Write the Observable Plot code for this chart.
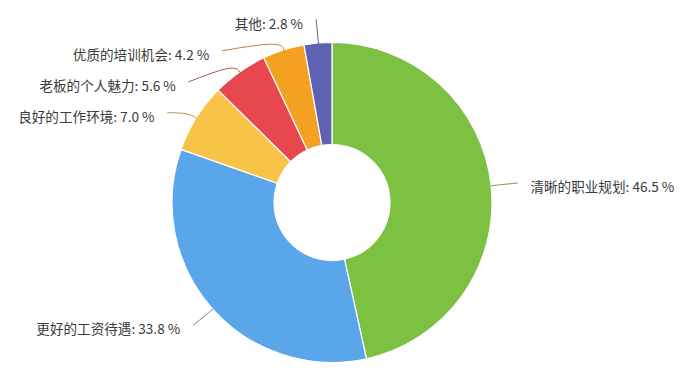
<!DOCTYPE html>
<html>
<head>
<meta charset="utf-8">
<script src="https://cdn.jsdelivr.net/npm/d3@7"></script>
<script src="https://cdn.jsdelivr.net/npm/@observablehq/plot@0.6"></script>
<style>
  html, body { margin: 0; padding: 0; background: #fff; }
  #chart { width: 690px; height: 383px; }
</style>
</head>
<body>
<div id="chart"></div>
<script>
const categories = ["清晰的职业规划", "更好的工资待遇", "良好的工作环境", "老板的个人魅力", "优质的培训机会", "其他"];
const values = [46.5, 33.8, 7.0, 5.6, 4.2, 2.8];
const colors = ["#7cc142", "#5aa6ea", "#f8c448", "#e9474f", "#f4a021", "#5d63b2"];

const W = 690, H = 383;
const cx = 332, cy = 202.5, R = 160, R0 = 58;

const data = categories.map((c, i) => ({ key: c, value: values[i], color: colors[i] }));
const arcs = d3.pie().sort(null).value(d => d.value)(data);

// label layout
const items = arcs.map(a => {
  const m = (a.startAngle + a.endAngle) / 2;
  const s = Math.sin(m), c = Math.cos(m);
  return { arc: a, m, s, c, side: s >= 0 ? 1 : -1, ly0: cy - 184 * c };
});
for (const side of [1, -1]) {
  const g = items.filter(d => d.side === side).sort((a, b) => a.ly0 - b.ly0);
  let prev = -Infinity;
  for (const d of g) {
    d.ly = Math.max(d.ly0, prev + 31);
    prev = d.ly;
  }
}
const linePts = [];
const labelPts = [];
for (const d of items) {
  const moved = d.ly > d.ly0 + 0.5;
  const Cx = moved ? cx + d.side * Math.sqrt(Math.max(0, 188 * 188 - (d.ly - cy) ** 2)) : cx + 186 * d.s;
  const col = d3.interpolateRgb(d.arc.data.color, "#666")(0.45);
  linePts.push({ key: d.arc.data.key, x: cx + R * d.s, y: cy - R * d.c, color: col });
  linePts.push({ key: d.arc.data.key, x: cx + (R + 10) * d.s, y: cy - (R + 10) * d.c, color: col });
  linePts.push({ key: d.arc.data.key, x: Cx, y: d.ly, color: col });
  labelPts.push({
    x: Cx + d.side * 13,
    y: d.ly + 5,
    text: `${d.arc.data.key}: ${d.arc.data.value.toFixed(1)} %`,
    anchor: d.side > 0 ? "start" : "end"
  });
}

const arcGen = d3.arc().innerRadius(R0).outerRadius(R);

function slices(index, scales) {
  const g = d3.create("svg:g")
    .attr("transform", `translate(${scales.x(cx)},${scales.y(cy)})`);
  g.selectAll("path")
    .data(arcs)
    .join("path")
    .attr("d", arcGen)
    .attr("fill", d => d.data.color)
    .attr("stroke", "#fff")
    .attr("stroke-width", 1.2)
    .attr("stroke-linejoin", "round");
  return g.node();
}

const chart = Plot.plot({
  width: W,
  height: H,
  margin: 0,
  x: { type: "identity", axis: null },
  y: { type: "identity", axis: null },
  color: { type: "identity" },
  style: { fontFamily: "'Noto Sans CJK SC', 'Noto Sans', sans-serif", background: "#fff" },
  marks: [
    slices,
    Plot.line(linePts, { x: "x", y: "y", z: "key", stroke: "color", curve: "basis", strokeWidth: 1 }),
    Plot.text(labelPts.filter(d => d.anchor === "start"), { x: "x", y: "y", text: "text", textAnchor: "start", fill: "#3a3a3a", fontSize: 13.6 }),
    Plot.text(labelPts.filter(d => d.anchor === "end"), { x: "x", y: "y", text: "text", textAnchor: "end", fill: "#3a3a3a", fontSize: 13.6 })
  ]
});
document.getElementById("chart").appendChild(chart);
</script>
</body>
</html>
